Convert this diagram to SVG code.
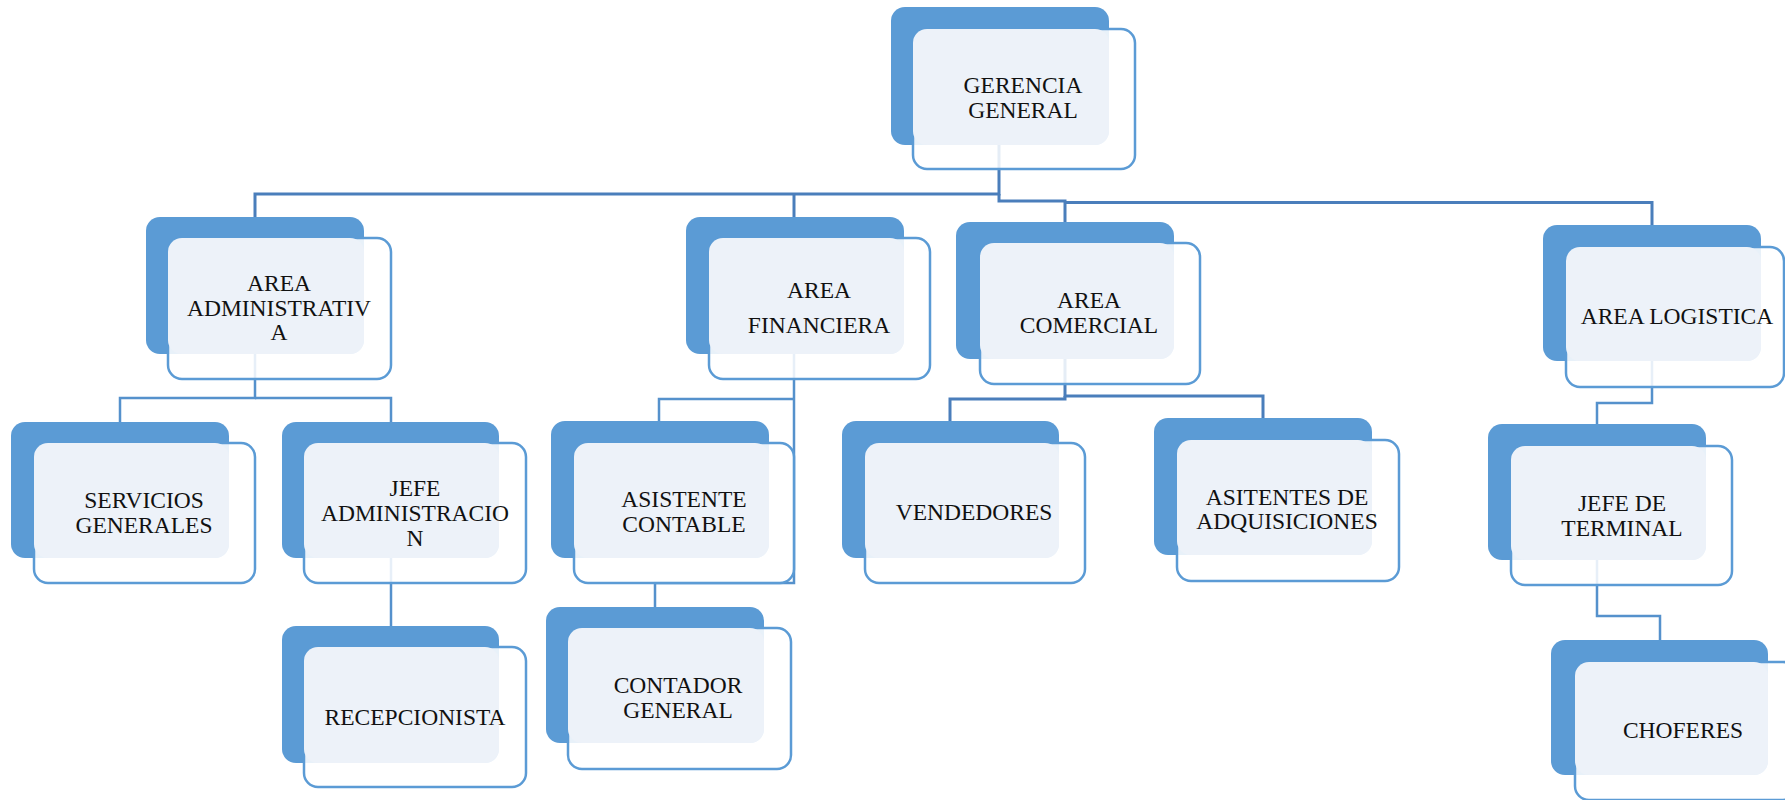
<svg xmlns="http://www.w3.org/2000/svg" width="1785" height="800" viewBox="0 0 1785 800">
  <style>
    .back { fill: #5B9BD5; }
    .front { fill: #FFFFFF; fill-opacity: 0.86; stroke: #5B9BD5; stroke-width: 2.5; }
    .tint { fill: #EDF2F9; }
    .label { font-family: "Liberation Serif", "Times New Roman", serif; font-size: 23.5px; fill: #111111; text-anchor: middle; }
    .link { fill: none; stroke: #5591CC; stroke-width: 2.5; }
    .link-top { fill: none; stroke: #4A7EBB; stroke-width: 3; }
  </style>
  <rect width="1785" height="800" fill="#FFFFFF"/>

  <!-- connectors (drawn first, nodes sit on top) -->
  <g id="connectors">
    <path class="link-top" d="M999,145 V194 H255 V217"/>
    <path class="link-top" d="M794,194 V217"/>
    <path class="link-top" d="M999,194 V201 H1065 V222"/>
    <path class="link-top" d="M1065,202.5 H1652 V225"/>
    <path class="link" d="M255,354 V398 H120 V422"/>
    <path class="link" d="M255,398 H391 V422"/>
    <path class="link" d="M391,558 V626"/>
    <path class="link" d="M794,354 V583 H655 V607"/>
    <path class="link" d="M794,399 H659 V421"/>
    <path class="link-top" d="M1065,359 V396 H1263 V418"/>
    <path class="link-top" d="M1065,396 V399 H950 V421"/>
    <path class="link" d="M1652,361 V403 H1597 V424"/>
    <path class="link" d="M1597,560 V616 H1660 V640"/>
  </g>

  <g id="gerencia-general">
    <rect class="back" x="891" y="7" width="218" height="138" rx="14"/>
    <rect class="front" x="913" y="29" width="222" height="140" rx="14"/>
    <rect class="tint" x="913" y="29" width="196" height="116" rx="14"/>
    <text class="label" x="1023" y="93">GERENCIA</text>
    <text class="label" x="1023" y="118">GENERAL</text>
  </g>

  <g id="area-administrativa">
    <rect class="back" x="146" y="217" width="218" height="137" rx="14"/>
    <rect class="front" x="168" y="238" width="223" height="141" rx="14"/>
    <rect class="tint" x="168" y="238" width="196" height="116" rx="14"/>
    <text class="label" x="279" y="291">AREA</text>
    <text class="label" x="279" y="316">ADMINISTRATIV</text>
    <text class="label" x="279" y="340">A</text>
  </g>

  <g id="area-financiera">
    <rect class="back" x="686" y="217" width="218" height="137" rx="14"/>
    <rect class="front" x="709" y="238" width="221" height="141" rx="14"/>
    <rect class="tint" x="709" y="238" width="195" height="116" rx="14"/>
    <text class="label" x="819" y="298">AREA</text>
    <text class="label" x="819" y="333">FINANCIERA</text>
  </g>

  <g id="area-comercial">
    <rect class="back" x="956" y="222" width="218" height="137" rx="14"/>
    <rect class="front" x="980" y="243" width="220" height="141" rx="14"/>
    <rect class="tint" x="980" y="243" width="194" height="116" rx="14"/>
    <text class="label" x="1089" y="308">AREA</text>
    <text class="label" x="1089" y="333">COMERCIAL</text>
  </g>

  <g id="area-logistica">
    <rect class="back" x="1543" y="225" width="218" height="136" rx="14"/>
    <rect class="front" x="1566" y="247" width="218" height="140" rx="14"/>
    <rect class="tint" x="1566" y="247" width="195" height="114" rx="14"/>
    <text class="label" x="1677" y="324">AREA LOGISTICA</text>
  </g>

  <g id="servicios-generales">
    <rect class="back" x="11" y="422" width="218" height="136" rx="14"/>
    <rect class="front" x="34" y="443" width="221" height="140" rx="14"/>
    <rect class="tint" x="34" y="443" width="195" height="115" rx="14"/>
    <text class="label" x="144" y="508">SERVICIOS</text>
    <text class="label" x="144" y="533">GENERALES</text>
  </g>

  <g id="jefe-administracion">
    <rect class="back" x="282" y="422" width="217" height="136" rx="14"/>
    <rect class="front" x="304" y="443" width="222" height="140" rx="14"/>
    <rect class="tint" x="304" y="443" width="195" height="115" rx="14"/>
    <text class="label" x="415" y="496">JEFE</text>
    <text class="label" x="415" y="521">ADMINISTRACIO</text>
    <text class="label" x="415" y="546">N</text>
  </g>

  <g id="asistente-contable">
    <rect class="back" x="551" y="421" width="218" height="137" rx="14"/>
    <rect class="front" x="574" y="443" width="220" height="140" rx="14"/>
    <rect class="tint" x="574" y="443" width="195" height="115" rx="14"/>
    <text class="label" x="684" y="507">ASISTENTE</text>
    <text class="label" x="684" y="532">CONTABLE</text>
  </g>

  <g id="vendedores">
    <rect class="back" x="842" y="421" width="217" height="137" rx="14"/>
    <rect class="front" x="865" y="443" width="220" height="140" rx="14"/>
    <rect class="tint" x="865" y="443" width="194" height="115" rx="14"/>
    <text class="label" x="974" y="520">VENDEDORES</text>
  </g>

  <g id="asitentes-adquisiciones">
    <rect class="back" x="1154" y="418" width="218" height="137" rx="14"/>
    <rect class="front" x="1177" y="440" width="222" height="141" rx="14"/>
    <rect class="tint" x="1177" y="440" width="195" height="115" rx="14"/>
    <text class="label" x="1287" y="505">ASITENTES DE</text>
    <text class="label" x="1287" y="529">ADQUISICIONES</text>
  </g>

  <g id="jefe-terminal">
    <rect class="back" x="1488" y="424" width="218" height="136" rx="14"/>
    <rect class="front" x="1511" y="446" width="221" height="139" rx="14"/>
    <rect class="tint" x="1511" y="446" width="195" height="114" rx="14"/>
    <text class="label" x="1622" y="511">JEFE DE</text>
    <text class="label" x="1622" y="536">TERMINAL</text>
  </g>

  <g id="recepcionista">
    <rect class="back" x="282" y="626" width="217" height="137" rx="14"/>
    <rect class="front" x="304" y="647" width="222" height="140" rx="14"/>
    <rect class="tint" x="304" y="647" width="195" height="116" rx="14"/>
    <text class="label" x="415" y="725">RECEPCIONISTA</text>
  </g>

  <g id="contador-general">
    <rect class="back" x="546" y="607" width="218" height="136" rx="14"/>
    <rect class="front" x="568" y="628" width="223" height="141" rx="14"/>
    <rect class="tint" x="568" y="628" width="196" height="115" rx="14"/>
    <text class="label" x="678" y="693">CONTADOR</text>
    <text class="label" x="678" y="718">GENERAL</text>
  </g>

  <g id="choferes">
    <rect class="back" x="1551" y="640" width="217" height="135" rx="14"/>
    <rect class="front" x="1575" y="662" width="222" height="138" rx="14"/>
    <rect class="tint" x="1575" y="662" width="193" height="113" rx="14"/>
    <text class="label" x="1683" y="738">CHOFERES</text>
  </g>
</svg>
